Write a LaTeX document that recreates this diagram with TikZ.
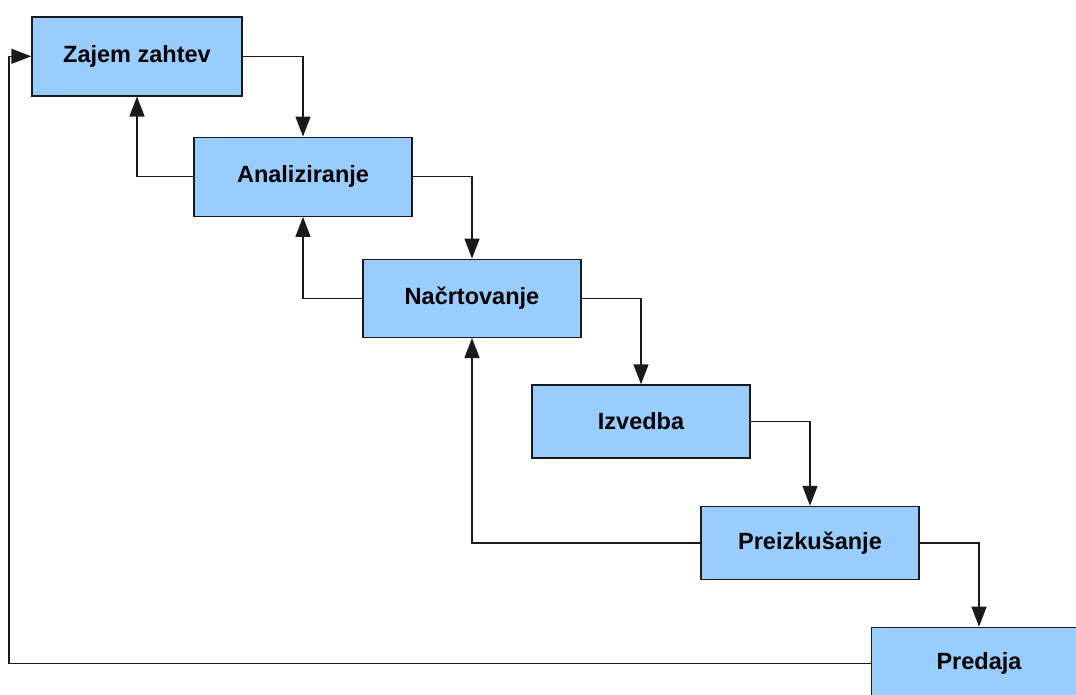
\documentclass[tikz,border=0pt]{standalone}
\usepackage{fontspec}
\setmainfont{Liberation Sans}
\usetikzlibrary{arrows.meta}
\definecolor{boxblue}{HTML}{99CCFF}
\definecolor{edge}{HTML}{1A1A1A}
\begin{document}
\begin{tikzpicture}[x=1pt,y=-1pt,
  phase/.style={draw=edge, line width=1.4pt, fill=boxblue, rectangle,
    inner sep=0pt, font=\fontsize{23.5}{28}\selectfont\bfseries, text=black},
  flow/.style={draw=edge, line width=1.4pt,
    -{Triangle[length=20pt,width=15pt]}}]
\useasboundingbox (0,0) rectangle (1076,694);
\clip (0,0) rectangle (1076,694);
% the six phases, each one step lower and further right
\node[phase, minimum width=210pt, minimum height=79pt] (zajem) at (137,56.3) {Zajem zahtev};
\node[phase, minimum width=218pt, minimum height=79pt] (anal) at (303,176.7) {Analiziranje};
\node[phase, minimum width=218pt, minimum height=78pt] (nacrt) at (472,298.3) {Načrtovanje};
\node[phase, minimum width=218pt, minimum height=73pt] (izved) at (641,421.5) {Izvedba};
\node[phase, minimum width=218pt, minimum height=73pt] (preiz) at (810,543) {Preizkušanje};
% last phase runs off the page edge
\node[phase, minimum width=240pt, minimum height=78pt, anchor=north west] (predaja) at (870.7,626.7) {};
\node[font=\fontsize{23.5}{28}\selectfont\bfseries, text=black] (predajatxt) at (979,663.3) {Predaja};
% forward flow
\draw[flow] (zajem.east) -| (anal.north);
\draw[flow] (anal.east) -| (nacrt.north);
\draw[flow] (nacrt.east) -| (izved.north);
\draw[flow] (izved.east) -| (preiz.north);
\draw[flow] (preiz.east) -| (979,626.7);
% feedback loops
\draw[flow] (anal.west) -| (zajem.south);
\draw[flow] (nacrt.west) -| (anal.south);
\draw[flow] (preiz.west) -| (nacrt.south);
\coordinate (back) at (9,663.3);
\draw[flow] (870.7,663.3) -- (back) |- (zajem.west);
\end{tikzpicture}
\end{document}
